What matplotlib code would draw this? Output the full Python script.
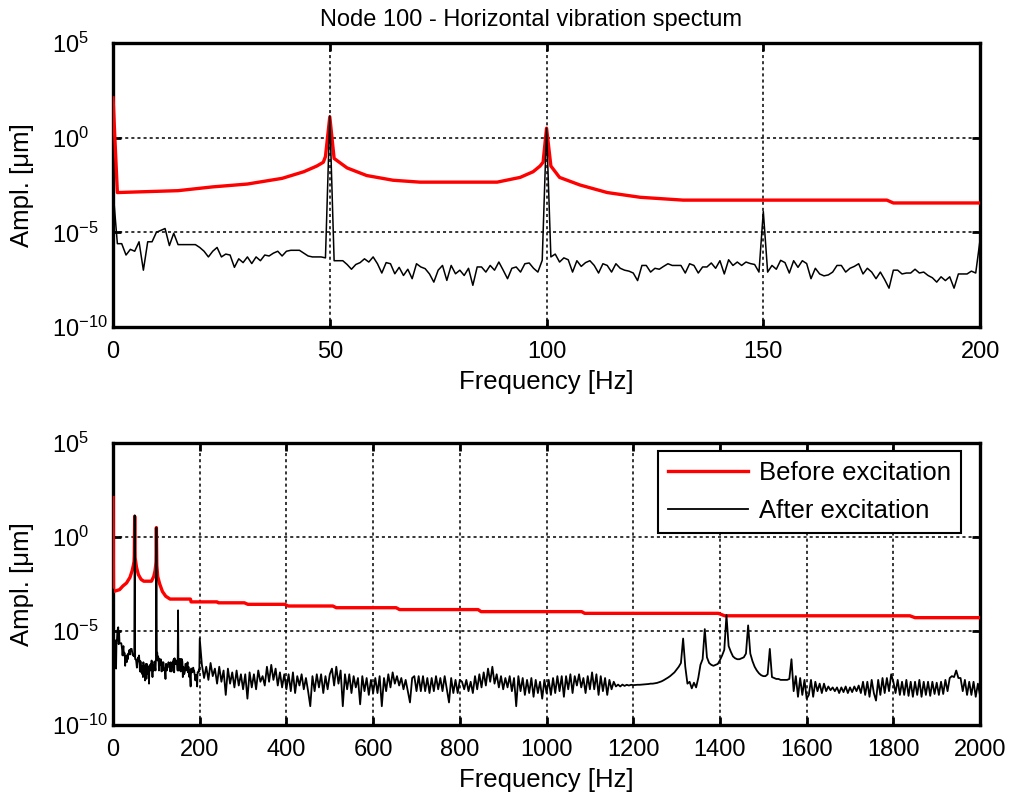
import numpy as np
import matplotlib
matplotlib.use("Agg")
import matplotlib.pyplot as plt

plt.rcParams['font.family'] = ['Liberation Sans', 'DejaVu Sans']
plt.rcParams['mathtext.fontset'] = 'custom'
plt.rcParams['mathtext.rm'] = 'Liberation Sans'
plt.rcParams['mathtext.it'] = 'Liberation Sans:italic'
plt.rcParams['mathtext.bf'] = 'Liberation Sans:bold'

# ---------------- data (log10 of amplitude in micrometres) ----------------
# "Before excitation" spectrum: breakpoints (Hz) and log10 amplitude
before_freq = [0, 1, 15, 23, 31, 39, 44, 47, 48.5, 49, 50, 51, 54, 58.5, 64.6, 70.8,
               88.6, 93.9, 96.9, 98.5, 99.2, 100, 101, 103, 107.7, 114, 121.6, 131.5,
               178.5, 180, 240, 243, 303, 311, 396, 404, 507, 515, 653, 661, 842,
               849, 1081, 1088, 1396, 1411, 1838, 1850, 2000]
before_log = [2.1, -2.9, -2.8, -2.6, -2.45, -2.15, -1.8, -1.5, -1.3, -1.0, 1.1, -1.1,
              -1.6, -2.0, -2.25, -2.35, -2.35, -2.1, -1.8, -1.5, -1.3, 0.5, -1.5, -2.1,
              -2.5, -2.9, -3.15, -3.3, -3.3, -3.45, -3.45, -3.5, -3.5, -3.58, -3.58,
              -3.67, -3.67, -3.76, -3.76, -3.86, -3.86, -3.97, -3.97, -4.06, -4.06,
              -4.19, -4.19, -4.29, -4.29]

# "After excitation" spectrum, 0..200 Hz at 1 Hz
after_low_log = [
    -2.8, -5.6, -5.6, -6.2, -5.9, -6.0, -5.5, -7.0, -5.5, -5.5,
    -5.0, -4.9, -4.8, -5.7, -5.05, -5.65, -5.65, -5.65, -5.65, -5.65,
    -5.8, -6.0, -6.3, -6.0, -5.8, -6.3, -6.15, -6.2, -6.85, -6.4,
    -6.6, -6.3, -6.65, -6.3, -6.5, -6.2, -6.25, -6.1, -6.0, -6.25,
    -6.0, -5.95, -5.95, -5.95, -6.1, -6.25, -6.3, -6.3, -6.3, -6.35,
    1.15, -6.5, -6.5, -6.5, -6.7, -6.95, -6.7, -6.6, -6.4, -6.57,
    -6.3, -6.66, -7.15, -6.6, -6.66, -7.19, -6.85, -7.28, -6.95, -7.45,
    -6.66, -6.83, -6.92, -7.2, -7.63, -7.0, -6.75, -7.54, -6.75, -7.19,
    -7.0, -7.28, -6.9, -7.8, -6.83, -6.83, -7.1, -6.75, -7.0, -6.57,
    -7.0, -7.45, -6.9, -6.83, -7.1, -6.66, -6.62, -6.9, -7.1, -6.48,
    0.5, -6.3, -6.15, -6.57, -6.35, -6.45, -7.1, -6.5, -6.8, -6.6,
    -6.5, -6.75, -7.15, -6.66, -6.75, -7.1, -6.66, -6.9, -7.0, -7.05,
    -7.15, -7.55, -6.75, -6.75, -7.1, -6.9, -6.95, -6.8, -6.66, -6.75,
    -6.75, -6.75, -7.15, -6.66, -6.75, -7.15, -6.83, -6.83, -6.62, -6.9,
    -6.5, -7.2, -6.45, -6.75, -6.57, -6.75, -6.57, -6.65, -6.7, -7.1,
    -3.9, -7.1, -6.75, -6.95, -6.48, -6.6, -7.15, -6.5, -6.85, -6.5,
    -6.65, -7.45, -6.9, -7.2, -7.3, -7.25, -7.1, -6.75, -6.75, -7.1,
    -6.9, -6.8, -6.66, -7.2, -6.9, -7.1, -7.45, -7.1, -7.5, -7.95,
    -7.0, -7.0, -7.2, -7.15, -7.15, -6.95, -7.15, -7.1, -7.28, -7.4,
    -7.63, -7.35, -7.55, -7.35, -7.95, -7.2, -7.2, -7.2, -7.05, -7.15,
    -5.4]

# "After excitation" spectrum, 205..2000 Hz at 5 Hz
after_high_log = [
    # 205-300
    -6.8, -7.5, -6.9, -7.6, -6.7, -7.4, -7.0, -7.8, -6.9, -7.7,
    -7.1, -8.4, -7.0, -7.8, -7.2, -8.0, -7.1, -7.9, -7.3, -8.1,
    # 305-400
    -7.3, -8.6, -7.2, -8.0, -7.3, -8.1, -7.1, -7.7, -7.4, -7.9,
    -6.9, -7.7, -6.8, -7.6, -7.0, -7.9, -7.2, -8.0, -7.3, -8.1,
    # 405-500
    -7.3, -8.2, -7.2, -8.3, -7.4, -7.9, -7.3, -8.1, -7.5, -8.2,
    -9.0, -7.4, -8.2, -7.3, -8.0, -7.3, -8.3, -7.4, -8.1, -7.3,
    # 505-600
    -7.0, -7.9, -6.9, -7.8, -7.1, -9.0, -7.3, -8.1, -7.3, -8.3,
    -7.4, -8.0, -7.5, -8.9, -7.4, -8.2, -7.5, -8.4, -7.6, -8.3,
    # 605-700
    -7.5, -8.3, -7.4, -9.0, -7.5, -8.2, -7.3, -8.0, -7.2, -7.8,
    -7.4, -7.9, -7.5, -8.1, -7.6, -8.2, -8.8, -7.5, -7.4, -8.2,
    # 705-800
    -7.4, -8.2, -7.4, -8.2, -7.5, -8.3, -7.5, -8.2, -7.4, -8.1,
    -7.5, -8.2, -7.4, -8.1, -8.8, -7.5, -8.3, -7.6, -8.3, -7.6,
    # 805-900
    -7.7, -8.1, -7.6, -8.2, -7.7, -8.3, -7.4, -8.1, -7.3, -8.0,
    -7.2, -7.9, -7.0, -7.7, -6.9, -7.8, -7.3, -8.0, -7.4, -8.1,
    # 905-1000
    -7.5, -8.0, -7.4, -8.2, -7.5, -9.0, -7.4, -8.2, -7.5, -8.4,
    -7.6, -8.3, -7.5, -8.5, -7.6, -8.3, -7.7, -8.6, -7.6, -8.3,
    # 1005-1100
    -7.6, -8.4, -7.5, -8.3, -7.4, -8.2, -7.4, -8.5, -7.4, -8.1,
    -7.3, -8.3, -7.4, -7.9, -7.3, -8.0, -7.5, -8.3, -7.4, -8.1,
    # 1105-1200
    -7.2, -8.1, -7.3, -8.4, -7.4, -8.2, -7.5, -8.4, -7.6, -8.1,
    -7.7, -7.95, -7.85, -7.95, -7.85, -7.92, -7.86, -7.9, -7.86, -7.88,
    # 1205-1300
    -7.87, -7.86, -7.86, -7.85, -7.84, -7.83, -7.82, -7.8, -7.8, -7.78,
    -7.76, -7.72, -7.68, -7.62, -7.55, -7.48, -7.4, -7.3, -7.2, -7.05,
    # 1305-1400
    -6.9, -6.7, -5.4, -6.9, -7.8, -7.7, -8.05, -7.75, -8.0, -7.5,
    -6.8, -6.5, -4.9, -6.4, -6.7, -6.8, -6.85, -6.8, -6.75, -6.55,
    # 1405-1500
    -6.3, -6.0, -4.15, -5.8, -6.1, -6.35, -6.45, -6.5, -6.5, -6.45,
    -6.4, -6.2, -4.7, -6.2, -6.6, -6.9, -7.1, -7.25, -7.35, -7.4,
    # 1505-1600
    -7.4, -7.3, -5.95, -7.45, -7.5, -7.55, -7.55, -7.6, -7.6, -7.6,
    -7.6, -7.55, -6.5, -8.2, -7.4, -8.5, -7.5, -8.4, -7.6, -8.6,
    # 1605-1700
    -8.4, -7.6, -8.5, -7.7, -8.2, -7.8, -8.3, -7.8, -8.2, -7.95,
    -8.15, -8.0, -8.2, -8.0, -8.3, -8.0, -8.25, -7.95, -8.3, -8.0,
    # 1705-1800
    -8.25, -7.95, -8.2, -7.9, -8.3, -7.7, -8.4, -7.7, -8.5, -7.6,
    -8.3, -8.7, -7.6, -8.4, -7.5, -8.3, -7.5, -8.2, -7.3, -7.7,
    # 1805-1900
    -8.3, -7.6, -8.4, -7.7, -8.4, -7.6, -8.45, -7.7, -8.5, -7.7,
    -8.4, -7.6, -8.5, -7.7, -8.4, -7.7, -8.45, -7.7, -8.35, -7.75,
    # 1905-2000
    -8.4, -7.7, -8.35, -7.6, -8.2, -7.5, -7.4, -7.45, -7.1, -7.5,
    -7.5, -8.2, -7.6, -8.4, -7.7, -8.4, -7.7, -8.5, -7.8, -8.45]

title_text = "Node 100 - Horizontal vibration spectum"
xlabel_text = "Frequency [Hz]"
ylabel_text = "Ampl. [\u03bcm]"
legend_labels = ["Before excitation", "After excitation"]
top_xticks = [0, 50, 100, 150, 200]
bottom_xticks = [0, 200, 400, 600, 800, 1000, 1200, 1400, 1600, 1800, 2000]
yticks = [1e-10, 1e-5, 1e0, 1e5]
ytick_labels = ["$10^{-10}$", "$10^{-5}$", "$10^{0}$", "$10^{5}$"]

# ---------------- build series ----------------
f_before = np.array(before_freq, dtype=float)
a_before = 10.0 ** np.array(before_log)
f_after = np.concatenate([np.arange(0, 201, 1.0), np.arange(205, 2001, 5.0)])
a_after = 10.0 ** np.array(after_low_log + after_high_log)

fig = plt.figure(figsize=(10.11, 8.02), dpi=100)
ax1 = fig.add_axes([0.1118, 0.5923, 0.8576, 0.3541])
ax2 = fig.add_axes([0.1118, 0.0960, 0.8576, 0.3516])

FS = 18.5
TFS = 17
for ax, xmax, xt, blw in [(ax1, 200, top_xticks, 1.1), (ax2, 2000, bottom_xticks, 1.3)]:
    ax.plot(f_before, a_before, color='#ff0000', lw=2.4, label=legend_labels[0], zorder=3)
    ax.plot(f_after, a_after, color='black', lw=blw, label=legend_labels[1], zorder=4)
    ax.set_yscale('log')
    ax.set_xlim(0, xmax)
    ax.set_ylim(1e-10, 1e5)
    ax.set_xticks(xt)
    ax.set_xticklabels([str(v) for v in xt])
    ax.set_yticks(yticks)
    ax.set_yticklabels(ytick_labels)
    ax.yaxis.set_minor_locator(matplotlib.ticker.NullLocator())
    ax.tick_params(axis='both', which='major', direction='in', length=6, width=2,
                   labelsize=TFS, top=True, right=True)
    ax.tick_params(axis='x', pad=10)
    ax.tick_params(axis='y', pad=44)
    for lab in ax.get_yticklabels():
        lab.set_horizontalalignment('left')
    ax.grid(True, which='major', color='black', linestyle=(0, (2.0, 2.0)), lw=1.1)
    ax.set_axisbelow(False)
    for sp in ax.spines.values():
        sp.set_linewidth(2.4)
    ax.set_xlabel(xlabel_text, fontsize=FS, labelpad=5)
    ax.set_ylabel(ylabel_text, fontsize=FS)
    ax.yaxis.set_label_coords(-0.091, 0.5)

ax1.set_title(title_text, fontsize=17, pad=12, x=0.482)

leg = ax2.legend(loc='upper right', bbox_to_anchor=(0.978, 0.972), borderaxespad=0,
                 fontsize=FS, fancybox=False, framealpha=1, edgecolor='black',
                 handlelength=3.1, handletextpad=0.45, labelspacing=0.55,
                 borderpad=0.38)
leg.get_frame().set_linewidth(1.5)
leg.set_zorder(10)

fig.savefig("out.png", dpi=100)
